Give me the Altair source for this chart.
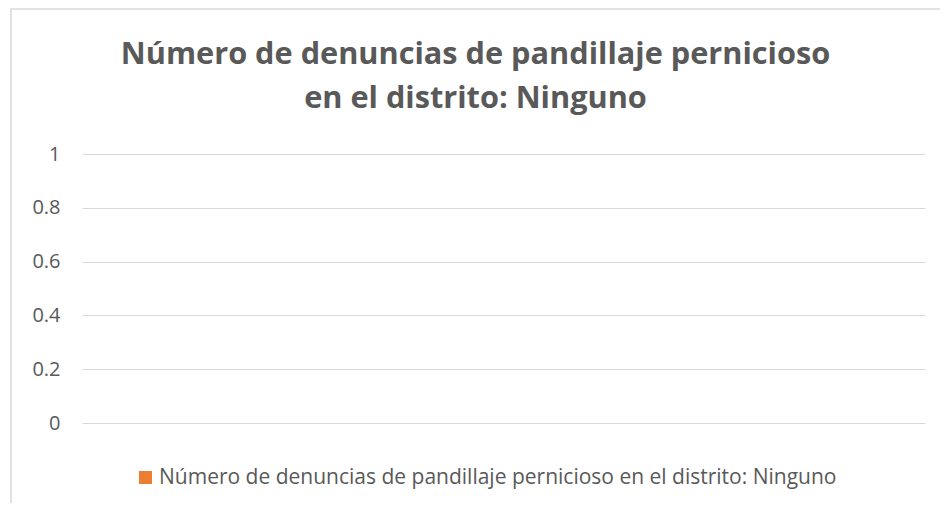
import altair as alt
import pandas as pd

title_lines = ["Número de denuncias de pandillaje pernicioso", "en el distrito: Ninguno"]
series_name = "Número de denuncias de pandillaje pernicioso en el distrito: Ninguno"
categories = [""]
values = [None]
y_ticks = [0, 0.2, 0.4, 0.6, 0.8, 1]

df = pd.DataFrame({"categoria": categories, "valor": values, "serie": [series_name] * len(categories)})

FONT = "Open Sans"
GREY = "#595959"

bars = alt.Chart(df).mark_bar().encode(
    x=alt.X("categoria:N", axis=None),
    y=alt.Y("valor:Q", scale=alt.Scale(domain=[0, 1], nice=False),
            axis=alt.Axis(values=y_ticks, format=".1~f", title=None, domain=False, ticks=False,
                          grid=True, gridColor="#D9D9D9", gridWidth=1,
                          labelFont=FONT, labelFontSize=20, labelColor=GREY, labelPadding=22)),
    color=alt.Color("serie:N", scale=alt.Scale(domain=[series_name], range=["#ED7D31"]),
                    legend=alt.Legend(title=None, orient="none", legendX=53, legendY=313,
                                      symbolType="square", symbolSize=169, symbolStrokeWidth=0,
                                      labelFont=FONT, labelFontSize=21, labelColor=GREY,
                                      labelLimit=1000, labelOffset=3)),
)

frame = alt.Chart(df).mark_rect(fill=None, stroke="#D9D9D9", strokeWidth=1.5).encode(
    x=alt.value(-71), x2=alt.value(900), y=alt.value(-145), y2=alt.value(420)
)

chart = alt.layer(frame, bars).properties(
    width=843, height=269,
    padding={"left": 74, "top": 146, "right": 15, "bottom": 80},
    autosize=alt.AutoSizeParams(type="none"),
    title=alt.TitleParams(text=title_lines, anchor="middle", dx=-28, offset=-106, frame="group",
                          font=FONT, fontSize=30.7, fontWeight="bold", color=GREY, lineHeight=44),
).configure_view(stroke=None)

chart.save("out.html", embed_options={"renderer": "svg", "actions": False})
